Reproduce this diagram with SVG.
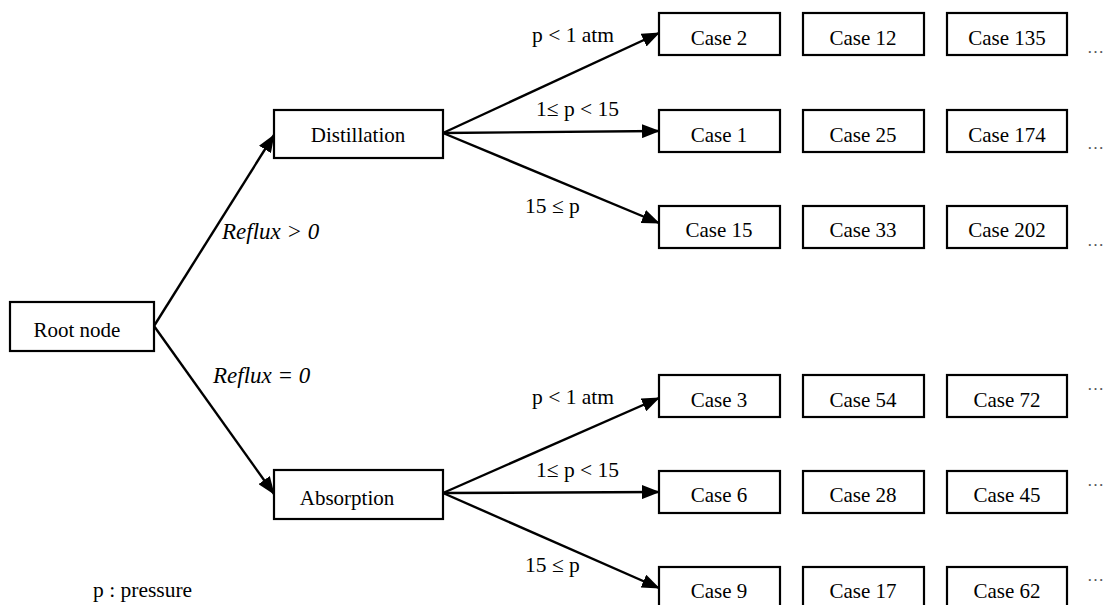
<svg xmlns="http://www.w3.org/2000/svg" width="1107" height="605" viewBox="0 0 1107 605">
<style>
.box{fill:#fff;stroke:#000;stroke-width:2.2}
.t{font-family:"Liberation Serif","Times New Roman",serif;font-size:21px;fill:#000}
.c{text-anchor:middle}
.i{font-style:italic;font-size:23px}
.lbl{font-family:"Liberation Serif","Times New Roman",serif;font-size:21.5px;fill:#000}
.dots{font-family:"Liberation Serif",serif;font-size:17px;fill:#555}
.e{stroke:#000;stroke-width:2.4;fill:none;marker-end:url(#arr)}
</style>
<defs>
<marker id="arr" viewBox="0 0 18 14" refX="17" refY="7" markerWidth="18" markerHeight="14" markerUnits="userSpaceOnUse" orient="auto">
<path d="M0,0 L18,7 L0,14 z" fill="#000"/>
</marker>
</defs>
<rect width="1107" height="605" fill="#fff"/>
<g id="connectors">
<line class="e" x1="154" y1="326" x2="274" y2="135"/>
<line class="e" x1="154" y1="326" x2="274" y2="494"/>
<line class="e" x1="443" y1="133" x2="659" y2="33"/>
<line class="e" x1="443" y1="133" x2="659" y2="131"/>
<line class="e" x1="443" y1="133" x2="659" y2="223"/>
<line class="e" x1="443" y1="493" x2="659" y2="398"/>
<line class="e" x1="443" y1="493" x2="659" y2="492"/>
<line class="e" x1="443" y1="493" x2="659" y2="588"/>
<text class="t i" x="222" y="239">Reflux &gt; 0</text>
<text class="t i" x="213" y="383">Reflux = 0</text>
<text class="lbl" x="532" y="42">p &lt; 1 atm</text>
<text class="lbl" x="536" y="116">1≤ p &lt; 15</text>
<text class="lbl" x="525" y="213">15 ≤ p</text>
<text class="lbl" x="532" y="404">p &lt; 1 atm</text>
<text class="lbl" x="536" y="477">1≤ p &lt; 15</text>
<text class="lbl" x="525" y="572">15 ≤ p</text>
</g>
<g id="root"><rect class="box" x="10" y="302" width="144" height="49"/><text class="t c" x="77" y="337">Root node</text></g>
<g id="distillation"><rect class="box" x="274" y="110" width="169" height="48"/><text class="t c" x="358" y="142">Distillation</text></g>
<g id="absorption"><rect class="box" x="274" y="470" width="169" height="49"/><text class="t c" x="347" y="505">Absorption</text></g>
<g id="case2"><rect class="box" x="659" y="13" width="121" height="42"/><text class="t c" x="719" y="45">Case 2</text></g>
<g id="case12"><rect class="box" x="803" y="13" width="121" height="42"/><text class="t c" x="863" y="45">Case 12</text></g>
<g id="case135"><rect class="box" x="947" y="13" width="120" height="42"/><text class="t c" x="1007" y="45">Case 135</text></g>
<g id="case1"><rect class="box" x="659" y="110" width="121" height="42"/><text class="t c" x="719" y="142">Case 1</text></g>
<g id="case25"><rect class="box" x="803" y="110" width="121" height="42"/><text class="t c" x="863" y="142">Case 25</text></g>
<g id="case174"><rect class="box" x="947" y="110" width="120" height="42"/><text class="t c" x="1007" y="142">Case 174</text></g>
<g id="case15"><rect class="box" x="659" y="206" width="121" height="42"/><text class="t c" x="719" y="237">Case 15</text></g>
<g id="case33"><rect class="box" x="803" y="206" width="121" height="42"/><text class="t c" x="863" y="237">Case 33</text></g>
<g id="case202"><rect class="box" x="947" y="206" width="120" height="42"/><text class="t c" x="1007" y="237">Case 202</text></g>
<g id="case3"><rect class="box" x="659" y="375" width="121" height="42"/><text class="t c" x="719" y="407">Case 3</text></g>
<g id="case54"><rect class="box" x="803" y="375" width="121" height="42"/><text class="t c" x="863" y="407">Case 54</text></g>
<g id="case72"><rect class="box" x="947" y="375" width="120" height="42"/><text class="t c" x="1007" y="407">Case 72</text></g>
<g id="case6"><rect class="box" x="659" y="471" width="121" height="42"/><text class="t c" x="719" y="502">Case 6</text></g>
<g id="case28"><rect class="box" x="803" y="471" width="121" height="42"/><text class="t c" x="863" y="502">Case 28</text></g>
<g id="case45"><rect class="box" x="947" y="471" width="120" height="42"/><text class="t c" x="1007" y="502">Case 45</text></g>
<g id="case9"><rect class="box" x="659" y="567" width="121" height="44"/><text class="t c" x="719" y="598">Case 9</text></g>
<g id="case17"><rect class="box" x="803" y="567" width="121" height="44"/><text class="t c" x="863" y="598">Case 17</text></g>
<g id="case62"><rect class="box" x="947" y="567" width="120" height="44"/><text class="t c" x="1007" y="598">Case 62</text></g>
<g id="ellipses">
<text class="dots" x="1087" y="53">…</text>
<text class="dots" x="1087" y="149">…</text>
<text class="dots" x="1087" y="246">…</text>
<text class="dots" x="1087" y="390">…</text>
<text class="dots" x="1087" y="486">…</text>
<text class="dots" x="1087" y="581">…</text>
</g>
<g id="legend"><text class="lbl" x="93" y="597">p : pressure</text></g>
</svg>
